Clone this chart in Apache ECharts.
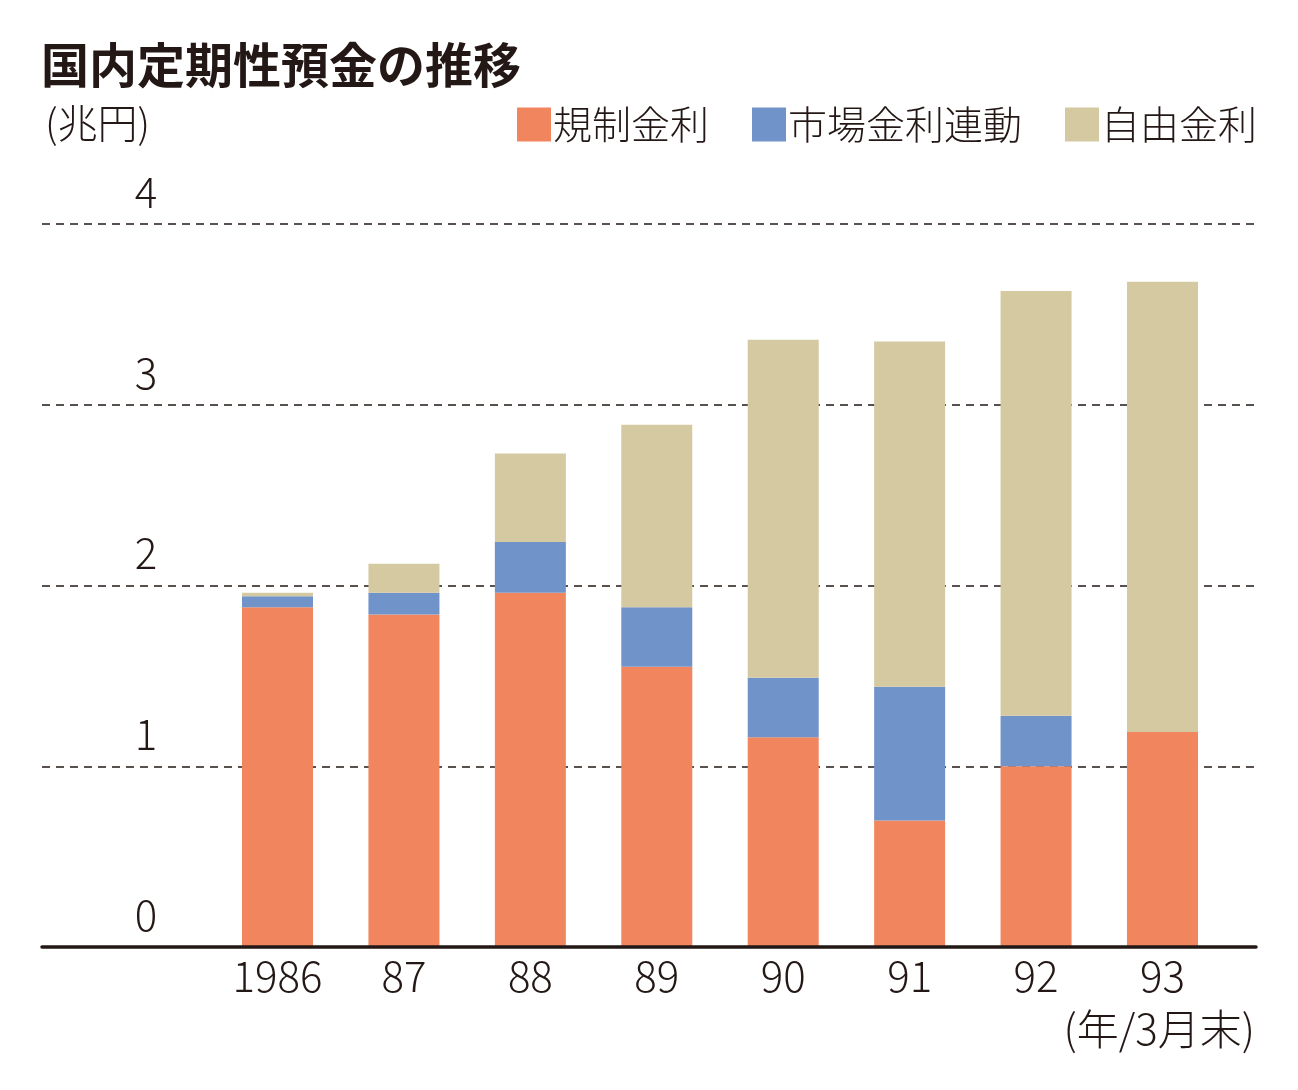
<!DOCTYPE html>
<html>
<head>
<meta charset="utf-8">
<script src="https://cdn.jsdelivr.net/npm/echarts@6/dist/echarts.min.js"></script>
<style>
html,body{margin:0;padding:0;background:#fff;}
#c{width:1298px;height:1090px;}
</style>
</head>
<body>
<div id="c"></div>
<script>
const categories = ['1986', '87', '88', '89', '90', '91', '92', '93'];
const regulated = [1.88, 1.84, 1.96, 1.55, 1.16, 0.70, 1.00, 1.19];
const marketLinked = [0.06, 0.12, 0.28, 0.33, 0.33, 0.74, 0.28, 0];
const freeRate = [0.02, 0.16, 0.49, 1.01, 1.87, 1.91, 2.35, 2.49];
const seriesNames = ['規制金利', '市場金利連動', '自由金利'];
const yTicks = [0, 1, 2, 3, 4];

const ink = '#231815';
const cjk = "'Noto Sans CJK JP', 'Noto Sans', sans-serif";
const num = "'Noto Sans CJK JP', 'Noto Sans', sans-serif";

const chart = echarts.init(document.getElementById('c'));
const gTop = 224, gBottom = 1090 - 947;

chart.setOption({
  animation: false,
  backgroundColor: '#fff',
  title: [
    { text: '国内定期性預金の推移', left: 36, top: 36,
      textStyle: { fontFamily: cjk, fontSize: 48, fontWeight: 'bold', color: ink } },
    { text: '(兆円)', left: 40, top: 98,
      textStyle: { fontFamily: cjk, fontSize: 40, fontWeight: 300, color: ink } }
  ],
  legend: {
    right: 36, top: 100,
    itemWidth: 34, itemHeight: 34, itemGap: 43,
    icon: 'rect',
    data: seriesNames,
    textStyle: { fontFamily: cjk, fontSize: 39, fontWeight: 300, color: ink, padding: [0, 0, 0, -3] }
  },
  grid: [
    { left: 42, right: 42, top: gTop, bottom: gBottom, containLabel: false },
    { left: 214.3, right: 72.3, top: gTop, bottom: gBottom, containLabel: false }
  ],
  xAxis: [
    { gridIndex: 0, type: 'value', min: 0, max: 1, z: 10,
      axisLine: { show: true, lineStyle: { color: ink, width: 3.5 } },
      axisTick: { show: false }, axisLabel: { show: false }, splitLine: { show: false } },
    { gridIndex: 1, type: 'category', data: categories,
      axisLine: { show: false }, axisTick: { show: false }, splitLine: { show: false },
      axisLabel: { interval: 0, fontFamily: num, fontSize: 42, fontWeight: 300, color: ink, margin: 8 } }
  ],
  yAxis: [
    { gridIndex: 0, type: 'value', min: 0, max: 4, interval: 1,
      axisLine: { show: false }, axisTick: { show: false },
      splitLine: { show: true, lineStyle: { color: ink, width: 1.5, type: [8, 6] } },
      axisLabel: { inside: true, margin: 104, align: 'center', verticalAlign: 'bottom',
        lineHeight: 64, fontFamily: num, fontSize: 42, fontWeight: 300, color: ink,
        formatter: v => yTicks.includes(v) ? String(v) : '' } },
    { gridIndex: 1, type: 'value', min: 0, max: 4, interval: 1, show: false,
      splitLine: { show: false } }
  ],
  series: [
    { name: seriesNames[0], type: 'bar', stack: 'total', xAxisIndex: 1, yAxisIndex: 1,
      barWidth: 71, data: regulated, itemStyle: { color: '#F1865E' } },
    { name: seriesNames[1], type: 'bar', stack: 'total', xAxisIndex: 1, yAxisIndex: 1,
      barWidth: 71, data: marketLinked, itemStyle: { color: '#7093CA' } },
    { name: seriesNames[2], type: 'bar', stack: 'total', xAxisIndex: 1, yAxisIndex: 1,
      barWidth: 71, data: freeRate, itemStyle: { color: '#D5C9A1' } }
  ],
  graphic: [
    { type: 'text', right: 43, top: 1008,
      style: { text: '(年/3月末)', font: "300 42px 'Noto Sans CJK JP', sans-serif", fill: ink } }
  ]
});
</script>
</body>
</html>
